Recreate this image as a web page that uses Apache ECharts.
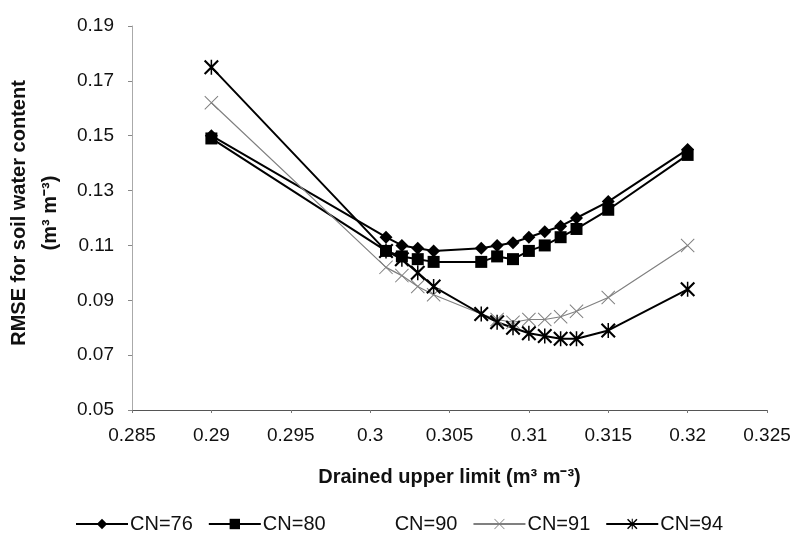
<!DOCTYPE html>
<html>
<head>
<meta charset="utf-8">
<script src="https://cdn.jsdelivr.net/npm/echarts@6/dist/echarts.min.js"></script>
<style>
  html, body { margin: 0; padding: 0; background: #fff; }
  #chart { width: 797px; height: 542px; }
</style>
</head>
<body>
<div id="chart"></div>
<script>
// Drained upper limit values (m3 m-3) at which RMSE was evaluated
const dulValues = [0.29, 0.301, 0.302, 0.303, 0.304, 0.307, 0.308, 0.309, 0.31, 0.311, 0.312, 0.313, 0.315, 0.32];

// RMSE for soil water content for each curve number
const rmseCN76 = [0.150, 0.113, 0.110, 0.109, 0.108, 0.109, 0.110, 0.111, 0.113, 0.115, 0.117, 0.120, 0.126, 0.145];
const rmseCN80 = [0.149, 0.108, 0.106, 0.105, 0.104, 0.104, 0.106, 0.105, 0.108, 0.110, 0.113, 0.116, 0.123, 0.143];
const rmseCN91 = [0.162, 0.102, 0.099, 0.095, 0.092, 0.085, 0.083, 0.082, 0.083, 0.083, 0.084, 0.086, 0.091, 0.110];
const rmseCN94 = [0.175, 0.108, 0.105, 0.100, 0.095, 0.085, 0.082, 0.080, 0.078, 0.077, 0.076, 0.076, 0.079, 0.094];

// Axis tick labels
const xTicks = [0.285, 0.29, 0.295, 0.3, 0.305, 0.31, 0.315, 0.32, 0.325];
const yTicks = [0.05, 0.07, 0.09, 0.11, 0.13, 0.15, 0.17, 0.19];

const seriesNames = ['CN=76', 'CN=80', 'CN=90', 'CN=91', 'CN=94'];

const pairs = (ys) => dulValues.map((x, i) => [x, ys[i]]);

// Marker shapes: thin cross and six-armed asterisk
const crossPath = 'path://M0,1L1,0L10,9L19,0L20,1L11,10L20,19L19,20L10,11L1,20L0,19L9,10Z';
const starPath = 'path://M0,2L2,0L10,8L18,0L20,2L12,10L20,18L18,20L10,12L2,20L0,18L8,10Z M9,0L11,0L11,20L9,20Z';

const FONT = 'Liberation Sans, Arial, sans-serif';

const chart = echarts.init(document.getElementById('chart'), null, { renderer: 'canvas' });

chart.setOption({
  animation: false,
  backgroundColor: '#fff',
  grid: { left: 132, right: 30, top: 26, bottom: 132, containLabel: false, outerBoundsMode: 'none' },
  xAxis: {
    type: 'value',
    min: 0.285,
    max: 0.325,
    name: 'Drained upper limit (m³ m⁻³)',
    nameLocation: 'middle',
    nameGap: 57,
    nameTextStyle: { fontFamily: FONT, fontSize: 20, fontWeight: 'bold', color: '#111' },
    axisLine: { lineStyle: { color: '#555', width: 1 } },
    axisTick: { customValues: xTicks, length: 3, lineStyle: { color: '#777' } },
    axisLabel: {
      customValues: xTicks,
      formatter: (v) => String(+v.toFixed(3)),
      fontFamily: FONT, fontSize: 19, color: '#111', margin: 16
    },
    splitLine: { show: false }
  },
  yAxis: {
    type: 'value',
    min: 0.05,
    max: 0.19,
    name: 'RMSE for soil water content\n(m³ m⁻³)',
    nameLocation: 'middle',
    nameRotate: 90,
    nameGap: 58,
    nameTextStyle: { fontFamily: FONT, fontSize: 20, fontWeight: 'bold', color: '#111', lineHeight: 31, padding: [0, 0, 0, 10] },
    axisLine: { show: true, lineStyle: { color: '#aaa', width: 1 } },
    axisTick: { show: true, customValues: yTicks, length: 4, lineStyle: { color: '#888' } },
    axisLabel: {
      customValues: yTicks,
      formatter: (v) => v.toFixed(2),
      fontFamily: FONT, fontSize: 19, color: '#111', margin: 18
    },
    splitLine: { show: false }
  },
  legend: {
    top: 509,
    left: 70,
    itemWidth: 52,
    itemHeight: 13,
    itemGap: 15,
    data: seriesNames,
    textStyle: { fontFamily: FONT, fontSize: 20, color: '#111', padding: [0, 0, 0, -3] }
  },
  series: [
    {
      name: 'CN=76', type: 'line', data: pairs(rmseCN76),
      symbol: 'diamond', symbolSize: 13,
      lineStyle: { color: '#000', width: 2 },
      itemStyle: { color: '#000' }
    },
    {
      name: 'CN=80', type: 'line', data: pairs(rmseCN80),
      symbol: 'rect', symbolSize: 12,
      lineStyle: { color: '#000', width: 2 },
      itemStyle: { color: '#000' }
    },
    {
      name: 'CN=90', type: 'line', data: [],
      symbol: 'none',
      lineStyle: { color: 'rgba(0,0,0,0)', width: 0 },
      itemStyle: { color: 'rgba(0,0,0,0)' }
    },
    {
      name: 'CN=91', type: 'line', data: pairs(rmseCN91),
      symbol: crossPath, symbolSize: 14,
      lineStyle: { color: '#808080', width: 1.2 },
      itemStyle: { color: '#808080' }
    },
    {
      name: 'CN=94', type: 'line', data: pairs(rmseCN94),
      symbol: starPath, symbolSize: 15,
      lineStyle: { color: '#000', width: 2 },
      itemStyle: { color: '#000' }
    }
  ]
});
</script>
</body>
</html>
